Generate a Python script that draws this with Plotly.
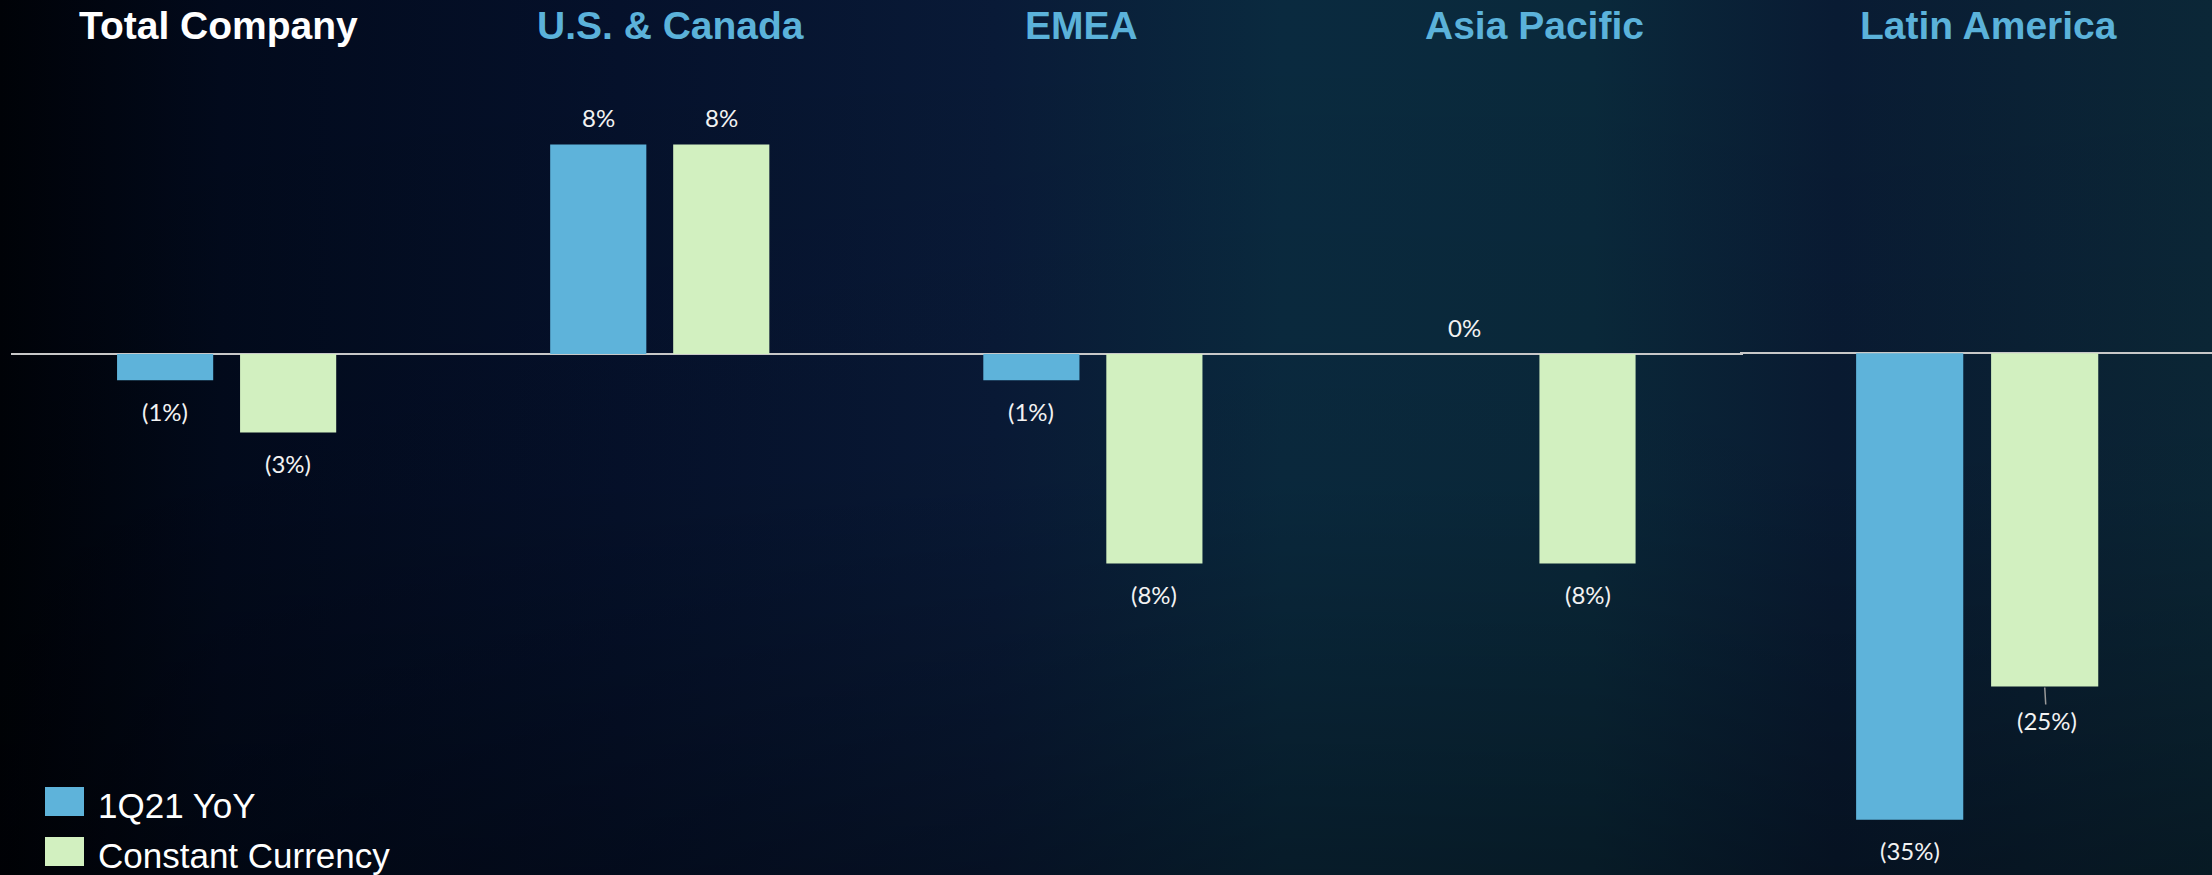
import base64
import plotly.graph_objects as go

# ---------------- data ----------------
regions = ["Total Company", "U.S. & Canada", "EMEA", "Asia Pacific", "Latin America"]
yoy = [-1, 8, -1, 0, -35]          # 1Q21 YoY (%)
const_ccy = [-3, 8, -8, -8, -25]   # Constant Currency (%)
series_names = ["1Q21 YoY", "Constant Currency"]

# ---------------- style ----------------
W, H = 2212, 875
BLUE = "#5EB3DA"
GREEN = "#D2F0C0"
TITLE_BLUE = "#5BB2DA"
LABEL_FONT = dict(family="Lato, Open Sans, sans-serif", size=24, color="#F2F2F2")

bg_svg = f"""<svg xmlns='http://www.w3.org/2000/svg' width='{W}' height='{H}' viewBox='0 0 {W} {H}' preserveAspectRatio='none'>
<defs>
<linearGradient id='h' x1='0' y1='0' x2='1' y2='0'>
<stop offset='0' stop-color='#000207'/>
<stop offset='0.10' stop-color='#020a1c'/>
<stop offset='0.28' stop-color='#05112b'/>
<stop offset='0.45' stop-color='#091a37'/>
<stop offset='0.58' stop-color='#0a2a3f'/>
<stop offset='0.72' stop-color='#0a293b'/>
<stop offset='0.83' stop-color='#091b33'/>
<stop offset='1' stop-color='#0b2737'/>
</linearGradient>
<linearGradient id='v' x1='0' y1='0' x2='0' y2='1'>
<stop offset='0' stop-color='#000' stop-opacity='0'/>
<stop offset='0.55' stop-color='#000' stop-opacity='0.05'/>
<stop offset='1' stop-color='#000' stop-opacity='0.35'/>
</linearGradient>
</defs>
<rect width='{W}' height='{H}' fill='url(#h)'/>
<rect width='{W}' height='{H}' fill='url(#v)'/>
</svg>"""
bg_uri = "data:image/svg+xml;base64," + base64.b64encode(bg_svg.encode()).decode()

# two panels: first four regions share one scale, Latin America has its own
panels = [
    dict(idx=[0, 1, 2, 3], xa="x", ya="y", width=0.222, offs=(-0.254, 0.030)),
    dict(idx=[4], xa="x2", ya="y2", width=0.227, offs=(-0.254, 0.032)),
]

fig = go.Figure()
annotations = []
for p in panels:
    cats = [regions[i] for i in p["idx"]]
    for s, (vals, color, off) in enumerate(zip((yoy, const_ccy), (BLUE, GREEN), p["offs"])):
        v = [vals[i] for i in p["idx"]]
        fig.add_trace(go.Bar(
            x=cats, y=v, name=series_names[s], marker=dict(color=color, line=dict(width=0)),
            width=p["width"], offset=off, xaxis=p["xa"], yaxis=p["ya"], showlegend=False,
        ))
        for k, val in enumerate(v):
            txt = f"{val}%" if val >= 0 else f"({abs(val)}%)"
            leader = (p["xa"] == "x2" and s == 1)
            ann = dict(
                x=k + off + p["width"] / 2, y=val, xref=p["xa"], yref=p["ya"],
                text=txt, font=LABEL_FONT, showarrow=False,
                yshift=27 if val >= 0 else -31,
            )
            if leader:
                ann.update(showarrow=True, arrowhead=0, arrowwidth=1.5, arrowcolor="#9a9a9a",
                           ax=2, ay=34, standoff=1, yshift=0)
            annotations.append(ann)

# region titles
title_x = [218, 670, 1081, 1534, 1988]
for i, r in enumerate(regions):
    annotations.append(dict(
        x=title_x[i] / W, y=1 - 25 / H, xref="paper", yref="paper", text=r, showarrow=False,
        font=dict(family="Liberation Sans, Arial, sans-serif", size=39, weight="bold",
                  color="#FFFFFF" if i == 0 else TITLE_BLUE),
        xanchor="center", yanchor="middle",
    ))

# manual legend
shapes = []
legend_rows = [(787, 816, 805), (837, 866, 855)]
for (y0, y1, yc), color, name in zip(legend_rows, (BLUE, GREEN), series_names):
    shapes.append(dict(type="rect", xref="paper", yref="paper", x0=45 / W, x1=84 / W,
                       y0=1 - y1 / H, y1=1 - y0 / H, fillcolor=color, line=dict(width=0)))
    annotations.append(dict(x=96 / W, y=1 - yc / H, xref="paper", yref="paper", text=name,
                            showarrow=False, xanchor="left", yanchor="middle",
                            font=dict(family="Liberation Sans, Arial, sans-serif", size=35,
                                      color="#FFFFFF")))

axis_common = dict(showgrid=False, showticklabels=False, ticks="", showline=False, fixedrange=True)
zero_y = 354
px1 = 26.2
px2 = 13.33
fig.update_layout(
    width=W, height=H,
    margin=dict(l=0, r=0, t=0, b=0),
    paper_bgcolor="#06112a", plot_bgcolor="rgba(0,0,0,0)",
    images=[dict(source=bg_uri, xref="paper", yref="paper", x=0, y=1, sizex=1, sizey=1,
                 xanchor="left", yanchor="top", sizing="stretch", layer="below")],
    xaxis=dict(domain=[10.5 / W, 1743 / W], range=[-0.5, 3.5], type="category", zeroline=False,
               **axis_common),
    xaxis2=dict(domain=[1740 / W, 1], range=[-0.5, 0.5], type="category", zeroline=False,
                **axis_common),
    yaxis=dict(domain=[0, 1], range=[-(H - zero_y) / px1, zero_y / px1], zeroline=True,
               zerolinecolor="#C8C8C8", zerolinewidth=2, anchor="x", **axis_common),
    yaxis2=dict(domain=[0, 1], range=[-(H - zero_y + 0.8) / px2, (zero_y - 0.8) / px2],
                zeroline=True, zerolinecolor="#C8C8C8", zerolinewidth=2, anchor="x2",
                **axis_common),
    annotations=annotations, shapes=shapes, showlegend=False, barmode="overlay",
)

fig.write_html(
    "out.html",
    config={"displayModeBar": False},
    post_script="document.body.style.margin='0';document.body.style.padding='0';"
                "document.body.style.overflow='hidden';",
)
